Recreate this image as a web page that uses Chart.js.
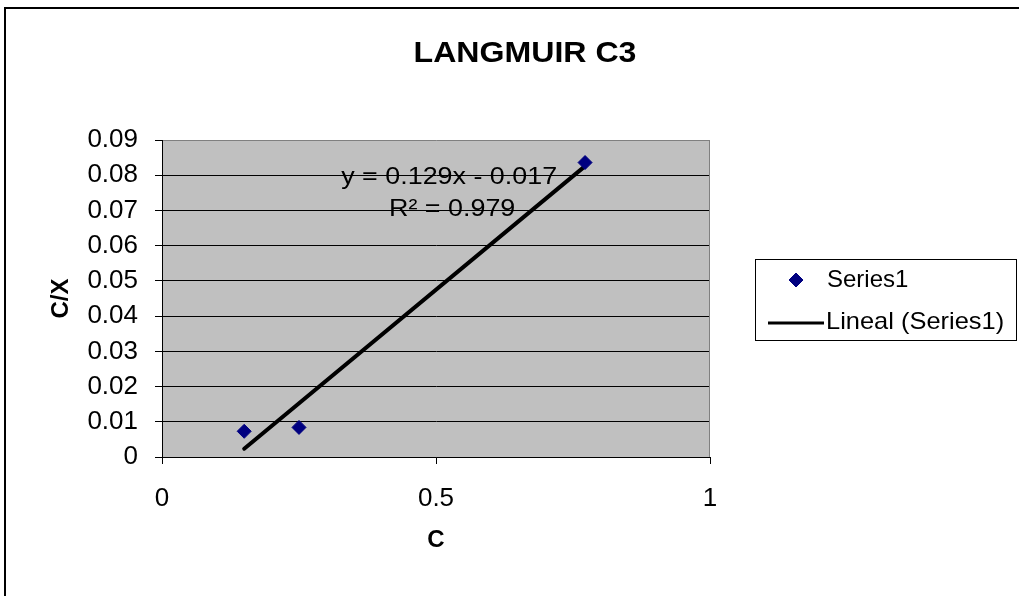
<!DOCTYPE html>
<html>
<head>
<meta charset="utf-8">
<title>LANGMUIR C3</title>
<script src="https://cdn.jsdelivr.net/npm/chart.js@4/dist/chart.umd.min.js"></script>
<style>
  html, body { margin: 0; padding: 0; background: #fff; }
  canvas { display: block; }
</style>
</head>
<body>
<canvas id="langmuir" width="1019" height="596"></canvas>
<script>
// measured points: C vs C/X
const cValues = [0.15, 0.25, 0.772];
const cxValues = [0.0073, 0.0084, 0.0836];

// linear trend line as printed on the chart
const trendSlope = 0.129;
const trendIntercept = -0.017;
const rSquared = 0.979;

const xTicks = [0, 0.5, 1];
const yTicks = [0, 0.01, 0.02, 0.03, 0.04, 0.05, 0.06, 0.07, 0.08, 0.09];

const FONT = "'Liberation Sans', Arial, sans-serif";

const seriesPoints = cValues.map((x, i) => ({ x, y: cxValues[i] }));
const trendEnds = [Math.min(...cValues), Math.max(...cValues)];
const trendPoints = trendEnds.map(x => ({ x, y: trendSlope * x + trendIntercept }));

// text drawn a little wide, like the old spreadsheet rendering
function wideText(ctx, text, x, y, stretch) {
  ctx.save();
  ctx.translate(x, y);
  ctx.scale(stretch, 1);
  ctx.fillText(text, 0, 0);
  ctx.restore();
}

// white page, outer frame, grey plot area
const frame = {
  id: 'frame',
  beforeDraw(chart) {
    const { ctx, chartArea: a } = chart;
    ctx.save();
    ctx.fillStyle = '#fff';
    ctx.fillRect(0, 0, chart.width, chart.height);
    ctx.fillStyle = '#000';
    ctx.fillRect(4, 7, 2, chart.height - 7);
    ctx.fillRect(4, 7, chart.width - 4, 2);
    ctx.fillStyle = '#c0c0c0';
    ctx.fillRect(a.left, a.top, a.right - a.left, a.bottom - a.top);
    ctx.restore();
  },
  beforeDatasetsDraw(chart) {
    const { ctx, chartArea: a, scales } = chart;
    ctx.save();
    ctx.strokeStyle = '#808080';
    ctx.lineWidth = 1;
    ctx.beginPath();
    ctx.moveTo(a.right - 0.5, a.top);
    ctx.lineTo(a.right - 0.5, a.bottom);
    ctx.stroke();

    // trend equation, under the line
    const sign = trendIntercept < 0 ? '-' : '+';
    ctx.fillStyle = '#000';
    ctx.font = '24px ' + FONT;
    ctx.textAlign = 'center';
    ctx.textBaseline = 'middle';
    const ex = scales.x.getPixelForValue(0.524);
    wideText(ctx, 'y = ' + trendSlope + 'x ' + sign + ' ' + Math.abs(trendIntercept),
      ex, scales.y.getPixelForValue(0.0793), 1.12);
    wideText(ctx, 'R\u00b2 = ' + rSquared, ex + 3, scales.y.getPixelForValue(0.0703), 1.12);
    ctx.restore();
  },
  afterDraw(chart) {
    const { ctx } = chart;
    ctx.save();
    ctx.fillStyle = '#000';
    ctx.font = 'bold 30px ' + FONT;
    ctx.textAlign = 'center';
    ctx.textBaseline = 'middle';
    wideText(ctx, 'LANGMUIR C3', 525, 54, 1.07);
    ctx.restore();
  }
};

// boxed legend at the right
const sideLegend = {
  id: 'sideLegend',
  afterDraw(chart) {
    const { ctx } = chart;
    const [pts, trend] = chart.data.datasets;
    ctx.save();
    ctx.fillStyle = '#fff';
    ctx.fillRect(755, 259, 261, 81);
    ctx.strokeStyle = '#000';
    ctx.lineWidth = 1;
    ctx.strokeRect(755.5, 259.5, 261, 81);

    ctx.fillStyle = pts.backgroundColor;
    ctx.strokeStyle = pts.borderColor;
    Chart.helpers.drawPoint(ctx, {
      pointStyle: pts.pointStyle, radius: pts.pointRadius, borderWidth: 1, rotation: 0
    }, 796, 280);

    ctx.strokeStyle = trend.borderColor;
    ctx.lineWidth = 3;
    ctx.beginPath();
    ctx.moveTo(768, 323);
    ctx.lineTo(824, 323);
    ctx.stroke();

    ctx.fillStyle = '#000';
    ctx.font = '24px ' + FONT;
    ctx.textAlign = 'left';
    ctx.textBaseline = 'middle';
    wideText(ctx, pts.label, 827, 280, 1.0);
    wideText(ctx, trend.label, 826, 322, 1.06);
    ctx.restore();
  }
};

new Chart(document.getElementById('langmuir'), {
  type: 'scatter',
  data: {
    datasets: [
      {
        label: 'Series1',
        data: seriesPoints,
        pointStyle: 'rectRot',
        pointRadius: 7,
        backgroundColor: '#000080',
        borderColor: '#000080',
        borderWidth: 1
      },
      {
        label: 'Lineal (Series1)',
        data: trendPoints,
        showLine: true,
        pointRadius: 0,
        borderColor: '#000',
        borderWidth: 4,
        borderCapStyle: 'round'
      }
    ]
  },
  options: {
    responsive: false,
    animation: false,
    devicePixelRatio: 1,
    layout: { padding: { left: 40, top: 140, right: 309, bottom: 40 } },
    plugins: { legend: { display: false }, tooltip: { enabled: false }, title: { display: false } },
    scales: {
      x: {
        type: 'linear',
        min: 0,
        max: 1,
        afterBuildTicks: s => { s.ticks = xTicks.map(v => ({ value: v })); },
        afterFit: s => { s.height = 99; },
        ticks: {
          color: '#000',
          font: { family: FONT, size: 26 },
          padding: 19,
          callback: v => String(v)
        },
        grid: { drawOnChartArea: false, tickLength: 7, tickColor: '#000' },
        border: { color: '#000', width: 1 },
        title: {
          display: true, text: 'C', color: '#000',
          font: { family: FONT, size: 24, weight: 'bold' },
          padding: { top: 0, bottom: 1 }
        }
      },
      y: {
        type: 'linear',
        min: 0,
        max: 0.09,
        afterBuildTicks: s => { s.ticks = yTicks.map(v => ({ value: v })); },
        afterFit: s => { s.width = 122; },
        ticks: {
          color: '#000',
          font: { family: FONT, size: 26 },
          padding: 17,
          callback: v => v === 0 ? '0' : v.toFixed(2)
        },
        grid: {
          color: c => (c.tick && c.tick.value >= 0.0895) ? '#808080' : '#000',
          tickColor: '#000',
          tickLength: 7,
          lineWidth: 1
        },
        border: { color: '#000', width: 1 },
        title: {
          display: true, text: 'C/X', color: '#000',
          font: { family: FONT, size: 24, weight: 'bold' },
          padding: { top: 7, bottom: 0 }
        }
      }
    }
  },
  plugins: [frame, sideLegend]
});
</script>
</body>
</html>
